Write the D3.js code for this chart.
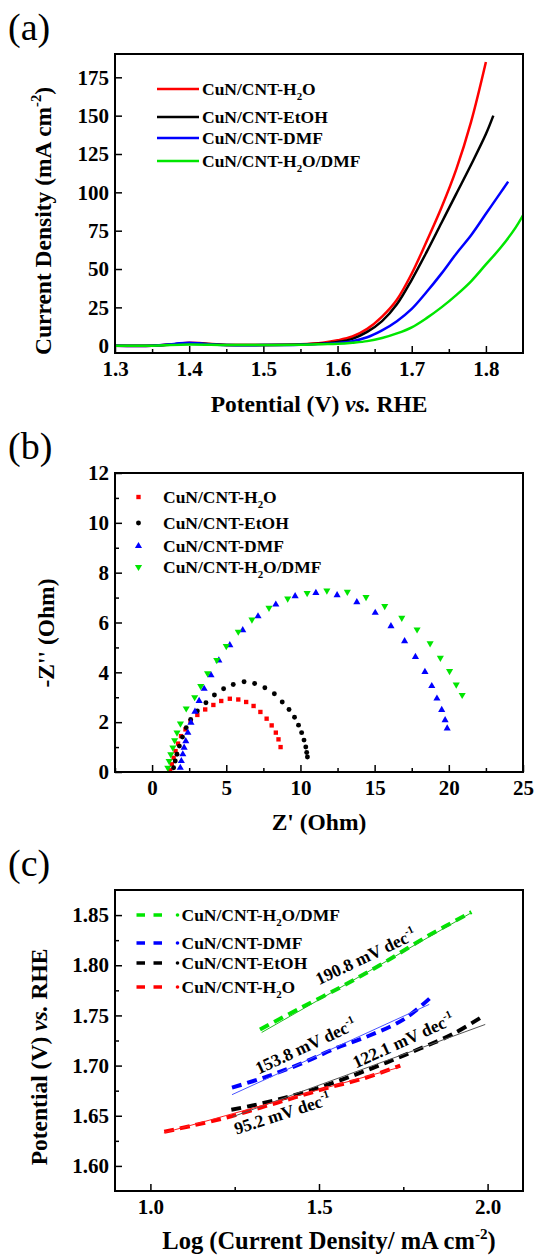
<!DOCTYPE html>
<html>
<head>
<meta charset="utf-8">
<script src="https://cdn.jsdelivr.net/npm/d3@7"></script>
<style>
  body { margin: 0; background: #fff; }
  svg { display: block; }
</style>
</head>
<body>
<div id="chart"></div>
<script>
// ---- data ----
var seriesNames = ["CuN/CNT-H_{2}O", "CuN/CNT-EtOH", "CuN/CNT-DMF", "CuN/CNT-H_{2}O/DMF"];
var seriesColors = ["#ff0000", "#000000", "#0000ff", "#00e600"];

// (a) LSV curves: [potential V, current density mA cm-2]
var lsvH2O = [[1.30,0],[1.35,0],[1.38,1],[1.40,2],[1.42,1.5],[1.45,0.5],[1.50,0.5],[1.55,1],[1.58,2],[1.60,3.5],[1.62,6],[1.64,11],[1.66,19],[1.68,30],[1.70,47],[1.72,68],[1.74,90],[1.76,115],[1.78,146],[1.80,185]];
var lsvEtOH = [[1.30,0],[1.35,0],[1.38,0.8],[1.40,1.5],[1.42,1.2],[1.45,0.5],[1.50,0.5],[1.55,0.8],[1.58,1.5],[1.60,2.5],[1.62,4.5],[1.64,9],[1.66,16],[1.68,27],[1.70,43],[1.72,61],[1.74,80],[1.76,99],[1.78,118],[1.80,138],[1.81,150]];
var lsvDMF = [[1.30,0],[1.35,0],[1.38,1.2],[1.40,2],[1.42,1.2],[1.45,0.4],[1.50,0.4],[1.55,0.7],[1.58,1.2],[1.60,1.8],[1.62,3],[1.64,5.5],[1.66,10],[1.68,16],[1.70,24],[1.72,35],[1.74,47],[1.76,60],[1.78,72],[1.80,86],[1.82,100],[1.83,107]];
var lsvMix = [[1.30,0],[1.35,0],[1.40,0.8],[1.45,0.4],[1.50,0.4],[1.55,0.6],[1.58,1],[1.60,1.3],[1.62,2],[1.64,3],[1.66,5],[1.68,8],[1.70,12],[1.72,18],[1.74,25],[1.76,33],[1.78,42],[1.80,53],[1.82,64],[1.84,77],[1.85,85]];

// (b) Nyquist points: [Z' Ohm, -Z'' Ohm]
var eisH2O = [[1.22,0.07],[1.33,0.31],[1.45,0.57],[1.58,0.84],[1.75,1.14],[1.95,1.44],[2.25,1.71],[2.59,2.04],[3.05,2.29],[3.58,2.51],[4.13,2.69],[4.66,2.85],[5.24,2.94],[5.81,2.91],[6.34,2.81],[6.84,2.65],[7.30,2.41],[7.72,2.14],[8.06,1.87],[8.34,1.58],[8.52,1.31],[8.66,1.00]];
var eisEtOH = [[1.45,0.17],[1.56,0.44],[1.68,0.71],[1.84,1.04],[2.05,1.40],[2.30,1.78],[2.60,2.11],[3.05,2.45],[3.63,2.78],[4.20,3.09],[4.82,3.34],[5.47,3.51],[6.20,3.62],[6.91,3.55],[7.60,3.38],[8.24,3.14],[8.77,2.81],[9.23,2.51],[9.60,2.20],[9.87,1.88],[10.08,1.58],[10.24,1.28],[10.36,1.00],[10.42,0.78],[10.47,0.60]];
var eisDMF = [[1.90,0.17],[1.97,0.44],[2.07,0.71],[2.16,0.98],[2.27,1.24],[2.41,1.58],[2.62,1.98],[2.89,2.42],[3.17,2.85],[3.51,3.34],[3.97,3.89],[4.50,4.48],[5.24,5.09],[6.11,5.69],[7.14,6.25],[8.34,6.72],[9.64,7.06],[11.04,7.19],[12.47,7.10],[13.80,6.82],[15.04,6.39],[16.10,5.85],[17.02,5.25],[17.75,4.62],[18.39,4.02],[18.85,3.45],[19.20,2.95],[19.52,2.49],[19.75,2.08],[19.89,1.75]];
var eisMix = [[1.06,0.17],[1.15,0.44],[1.26,0.71],[1.40,0.98],[1.52,1.27],[1.68,1.58],[1.91,1.94],[2.30,2.55],[2.87,3.00],[3.28,3.45],[3.74,3.96],[4.36,4.49],[5.00,5.05],[5.81,5.63],[6.73,6.12],[7.88,6.59],[9.14,6.96],[10.45,7.18],[11.78,7.28],[13.16,7.23],[14.42,7.02],[15.68,6.66],[16.83,6.19],[17.86,5.72],[18.74,5.16],[19.43,4.58],[20.05,4.05],[20.50,3.51],[20.90,3.09]];

// (c) Tafel plots: [log j, potential V]
var tafelH2O = [[1.041,1.634],[1.122,1.640],[1.223,1.648],[1.325,1.658],[1.426,1.668],[1.528,1.678],[1.630,1.687],[1.741,1.700]];
var tafelEtOH = [[1.24,1.656],[1.30,1.660],[1.40,1.668],[1.50,1.678],[1.60,1.690],[1.70,1.703],[1.80,1.717],[1.90,1.732],[1.99,1.750]];
var tafelDMF = [[1.242,1.678],[1.345,1.689],[1.447,1.702],[1.548,1.717],[1.650,1.730],[1.751,1.746],[1.835,1.769]];
var tafelMix = [[1.325,1.736],[1.437,1.756],[1.569,1.779],[1.690,1.802],[1.822,1.829],[1.952,1.853]];
// linear fits drawn as thin lines
var fitH2O = [[1.04,1.633],[1.736,1.698]];
var fitEtOH = [[1.244,1.649],[1.993,1.741]];
var fitDMF = [[1.242,1.671],[1.827,1.761]];
var fitMix = [[1.33,1.733],[1.95,1.852]];
var slopeLabels = ["95.2 mV dec^{-1}", "122.1 mV dec^{-1}", "153.8 mV dec^{-1}", "190.8 mV dec^{-1}"];
var slopeAnchors = [[1.255,1.631],[1.61,1.697],[1.321,1.691],[1.50,1.780]];
var slopeAngles = [-18, -24.5, -25, -25.5];

// ---- layout ----
var svgWidth = 537;
var svgHeight = 1259;
var FONT = "'Liberation Serif','Times New Roman',serif";
var left = 115, right = 523;
var tickFs = 21, titleFs = 23.5, legFs = 17.5;

var svg = d3.select("#chart").append("svg")
  .attr("width", svgWidth)
  .attr("height", svgHeight)
  .style("font-family", FONT);

// text with _{sub}, ^{sup} and ~{italic} pieces
function richText(sel, str, fs) {
  var parts = str.split(/(_\{[^}]*\}|\^\{[^}]*\}|~\{[^}]*\})/).filter(function(s) { return s.length; });
  var shift = 0;
  parts.forEach(function(p) {
    var t = p, dy = 0, size = null, italic = false;
    if (p.indexOf("_{") === 0) { t = p.slice(2, -1); dy = fs * 0.28 - shift; shift = fs * 0.28; size = fs * 0.62; }
    else if (p.indexOf("^{") === 0) { t = p.slice(2, -1); dy = -fs * 0.42 - shift; shift = -fs * 0.42; size = fs * 0.62; }
    else { if (p.indexOf("~{") === 0) { t = p.slice(2, -1); italic = true; } dy = -shift; shift = 0; }
    var ts = sel.append("tspan").attr("dy", dy).text(t);
    if (size) ts.attr("font-size", size);
    if (italic) ts.attr("font-style", "italic");
  });
  return sel;
}

function makePanel(top, bottom, o) {
  var x = d3.scaleLinear().domain(o.xDomain).range([left, right]);
  var y = d3.scaleLinear().domain(o.yDomain).range([bottom, top]);
  var g = svg.append("g");

  var clipId = "clip" + top;
  g.append("clipPath").attr("id", clipId)
    .append("rect").attr("x", left).attr("y", top).attr("width", right - left).attr("height", bottom - top);

  var xAxis = g.append("g").attr("transform", `translate(0, ${bottom})`)
    .call(d3.axisBottom(x).tickValues(o.xTicks).tickFormat(d3.format(o.xFmt))
      .tickSizeInner(-7).tickSizeOuter(0).tickPadding(8));
  var xMinor = g.append("g").attr("transform", `translate(0, ${bottom})`)
    .call(d3.axisBottom(x).tickValues(o.xMinor).tickFormat("").tickSizeInner(-4).tickSizeOuter(0));
  var yAxis = g.append("g").attr("transform", `translate(${left}, 0)`)
    .call(d3.axisLeft(y).tickValues(o.yTicks).tickFormat(d3.format(o.yFmt))
      .tickSizeInner(-7).tickSizeOuter(0).tickPadding(6));
  var yMinor = g.append("g").attr("transform", `translate(${left}, 0)`)
    .call(d3.axisLeft(y).tickValues(o.yMinor).tickFormat("").tickSizeInner(-4).tickSizeOuter(0));

  [xAxis, xMinor, yAxis, yMinor].forEach(function(a) {
    a.select(".domain").remove();
    a.selectAll(".tick line").attr("stroke", "#000").attr("stroke-width", 1.5);
    a.selectAll(".tick text").attr("font-family", FONT).attr("font-weight", "bold")
      .attr("font-size", tickFs).attr("fill", "#000");
  });

  var plot = g.append("g").attr("clip-path", `url(#${clipId})`);

  g.append("rect")
    .attr("x", left).attr("y", top)
    .attr("width", right - left).attr("height", bottom - top)
    .attr("fill", "none").attr("stroke", "#000").attr("stroke-width", 2);

  // panel letter
  svg.append("text").attr("x", 8).attr("y", top - 14)
    .attr("font-size", 38).text(o.letter);

  // axis titles
  richText(svg.append("text")
    .attr("x", o.xTitleCx).attr("y", o.xTitleY)
    .attr("text-anchor", "middle").attr("font-size", o.xTitleFs || titleFs).attr("font-weight", "bold"),
    o.xTitle, o.xTitleFs || titleFs);
  richText(svg.append("text")
    .attr("transform", `translate(${o.yTitleX}, ${o.yTitleCy}) rotate(-90)`)
    .attr("text-anchor", "middle").attr("font-size", titleFs).attr("font-weight", "bold"), o.yTitle, titleFs);

  return { x: x, y: y, plot: plot, g: g };
}

// ---------- (a) LSV ----------
var pa = makePanel(54, 353, {
  letter: "(a)",
  xDomain: [1.3, 1.85], yDomain: [-4.75, 190.2],
  xTicks: [1.3, 1.4, 1.5, 1.6, 1.7, 1.8], xMinor: [1.35, 1.45, 1.55, 1.65, 1.75],
  yTicks: d3.range(0, 176, 25), yMinor: [],
  xFmt: ".1f", yFmt: "d",
  xTitle: "Potential (V) ~{vs.} RHE", xTitleCx: 319, xTitleY: 412,
  yTitle: "Current Density (mA cm^{-2})", yTitleX: 51, yTitleCy: 221
});

var lsvData = [lsvH2O, lsvEtOH, lsvDMF, lsvMix];
var lsvLine = d3.line().x(d => pa.x(d[0])).y(d => pa.y(d[1])).curve(d3.curveCatmullRom.alpha(0.5));
lsvData.forEach(function(pts, i) {
  pa.plot.append("path").datum(pts)
    .attr("d", lsvLine)
    .attr("fill", "none")
    .attr("stroke", seriesColors[i])
    .attr("stroke-width", 2.5);
});

var legA = svg.append("g");
var legAY = [89, 117, 138, 161];
seriesNames.forEach(function(name, i) {
  legA.append("line").attr("x1", 157).attr("x2", 199).attr("y1", legAY[i]).attr("y2", legAY[i])
    .attr("stroke", seriesColors[i]).attr("stroke-width", 2.5);
  richText(legA.append("text").attr("x", 202).attr("y", legAY[i] + 6)
    .attr("font-size", legFs).attr("font-weight", "bold"), name, legFs);
});

// ---------- (b) Nyquist ----------
var pb = makePanel(473, 772, {
  letter: "(b)",
  xDomain: [-2.5, 25], yDomain: [0, 12],
  xTicks: [0, 5, 10, 15, 20, 25], xMinor: [-2.5, 2.5, 7.5, 12.5, 17.5, 22.5],
  yTicks: d3.range(0, 13, 2), yMinor: [1, 3, 5, 7, 9, 11],
  xFmt: "d", yFmt: "d",
  xTitle: "Z' (Ohm)", xTitleCx: 319, xTitleY: 830,
  yTitle: "-Z'' (Ohm)", yTitleX: 54, yTitleCy: 633
});

var eisData = [eisH2O, eisEtOH, eisDMF, eisMix];
var eisSymbols = [
  d3.symbol().type(d3.symbolSquare).size(19),
  d3.symbol().type(d3.symbolCircle).size(19),
  d3.symbol().type(d3.symbolTriangle).size(22),
  d3.symbol().type(d3.symbolTriangle).size(22)
];
eisData.forEach(function(pts, i) {
  pb.plot.selectAll(".eis" + i).data(pts).enter()
    .append("path")
    .attr("transform", d => `translate(${pb.x(d[0])}, ${pb.y(d[1])})` + (i === 3 ? " rotate(180)" : ""))
    .attr("d", eisSymbols[i])
    .attr("fill", seriesColors[i]);
});

var legB = svg.append("g");
var legBY = [497, 523, 546, 567];
seriesNames.forEach(function(name, i) {
  legB.append("path")
    .attr("transform", `translate(138.5, ${legBY[i]})` + (i === 3 ? " rotate(180)" : ""))
    .attr("d", eisSymbols[i])
    .attr("fill", seriesColors[i]);
  richText(legB.append("text").attr("x", 163).attr("y", legBY[i] + 6)
    .attr("font-size", legFs).attr("font-weight", "bold"), name, legFs);
});

// ---------- (c) Tafel ----------
var pc = makePanel(890, 1191, {
  letter: "(c)",
  xDomain: [0.895, 2.105], yDomain: [1.575, 1.875],
  xTicks: [1.0, 1.5, 2.0], xMinor: [1.25, 1.75],
  yTicks: [1.60, 1.65, 1.70, 1.75, 1.80, 1.85], yMinor: [1.625, 1.675, 1.725, 1.775, 1.825],
  xFmt: ".1f", yFmt: ".2f",
  xTitle: "Log (Current Density/ mA cm^{-2})", xTitleCx: 329, xTitleY: 1249, xTitleFs: 24.5,
  yTitle: "Potential (V) ~{vs.} RHE", yTitleX: 47, yTitleCy: 1057
});

var tafelData = [tafelMix, tafelDMF, tafelEtOH, tafelH2O];
var tafelColors = [seriesColors[3], seriesColors[2], seriesColors[1], seriesColors[0]];
var fitData = [fitMix, fitDMF, fitEtOH, fitH2O];
var fitColors = ["#22bb22", "#4a55ff", "#555555", "#ff2020"];
var tafelLine = d3.line().x(d => pc.x(d[0])).y(d => pc.y(d[1])).curve(d3.curveCatmullRom.alpha(0.5));

tafelData.forEach(function(pts, i) {
  pc.plot.append("path").datum(pts)
    .attr("d", tafelLine)
    .attr("fill", "none")
    .attr("stroke", tafelColors[i])
    .attr("stroke-width", 4)
    .attr("stroke-dasharray", "10,6");
});
fitData.forEach(function(pts, i) {
  pc.plot.append("path").datum(pts)
    .attr("d", d3.line().x(d => pc.x(d[0])).y(d => pc.y(d[1])))
    .attr("fill", "none")
    .attr("stroke", fitColors[i])
    .attr("stroke-width", 1);
});

slopeLabels.forEach(function(lab, i) {
  var ax = pc.x(slopeAnchors[i][0]), ay = pc.y(slopeAnchors[i][1]);
  richText(svg.append("text")
    .attr("transform", `translate(${ax}, ${ay}) rotate(${slopeAngles[i]})`)
    .attr("font-size", 17.5).attr("font-weight", "bold"), lab, 17.5);
});

// legend order in (c): H2O/DMF, DMF, EtOH, H2O
var legC = svg.append("g");
var legCOrder = [3, 2, 1, 0];
var legCY = [915, 943, 963, 987];
legCOrder.forEach(function(si, k) {
  legC.append("line").attr("x1", 136.5).attr("x2", 162).attr("y1", legCY[k]).attr("y2", legCY[k])
    .attr("stroke", seriesColors[si]).attr("stroke-width", 3.5).attr("stroke-dasharray", "8.5,8.5");
  legC.append("circle").attr("cx", 177.5).attr("cy", legCY[k]).attr("r", 1.8).attr("fill", seriesColors[si]);
  richText(legC.append("text").attr("x", 181.5).attr("y", legCY[k] + 6)
    .attr("font-size", legFs).attr("font-weight", "bold"), seriesNames[si], legFs);
});
</script>
</body>
</html>
